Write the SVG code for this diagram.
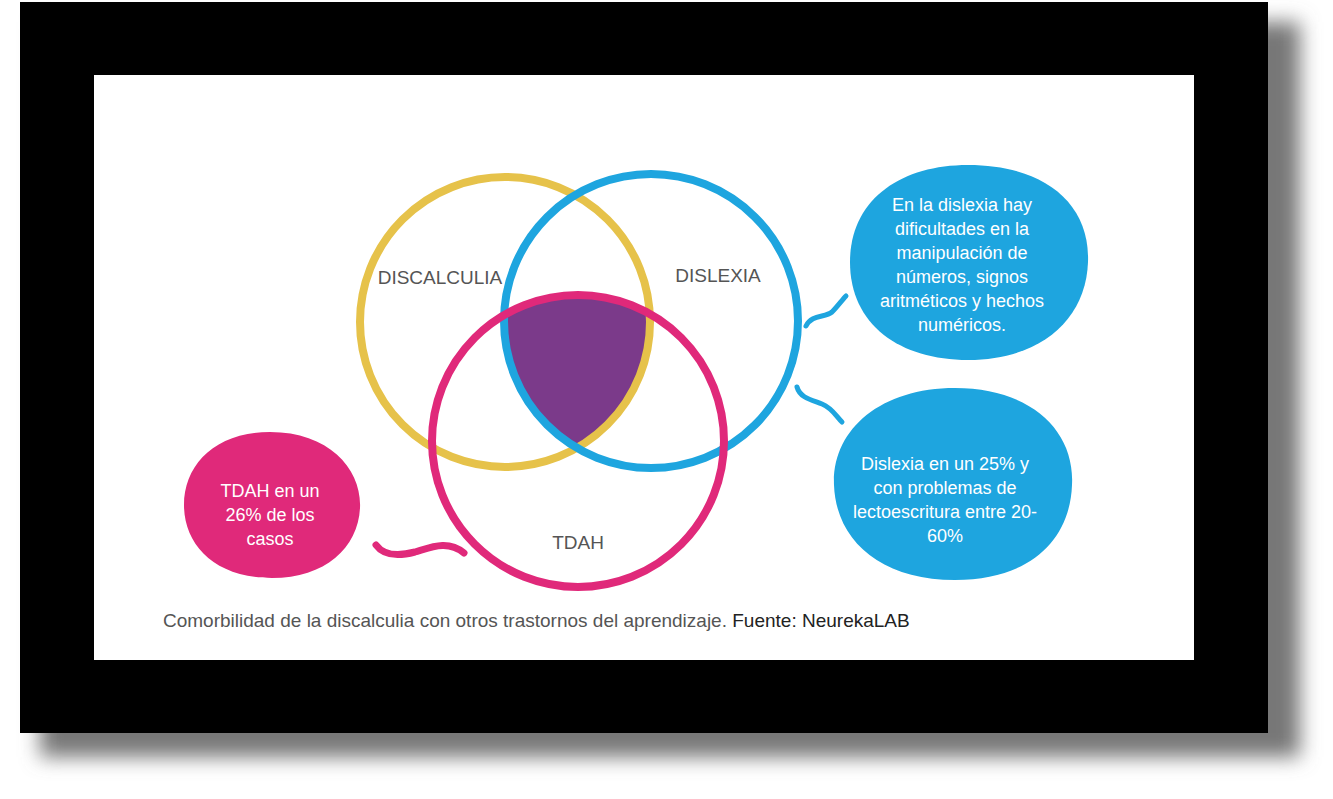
<svg xmlns="http://www.w3.org/2000/svg" width="1333" height="799" viewBox="0 0 1333 799">
<defs>
<style>
.lbl{font-family:"Liberation Sans",Arial,sans-serif;font-size:19px;fill:#555;text-anchor:middle}
.bt{font-family:"Liberation Sans",Arial,sans-serif;font-size:18px;fill:#fff;text-anchor:middle}
.ring{fill:none;stroke-width:8}
</style>
<filter id="sh" x="-5%" y="-5%" width="115%" height="120%"><feGaussianBlur stdDeviation="10"/></filter>
<clipPath id="cy"><circle cx="505" cy="322" r="145"/></clipPath>
<clipPath id="cb"><circle cx="651" cy="321" r="147"/></clipPath>
</defs>
<rect width="1333" height="799" fill="#fff"/>
<rect x="40" y="22" width="1260" height="735" fill="#777" filter="url(#sh)"/>
<rect x="20" y="2" width="1248" height="731" fill="#000"/>
<rect x="94" y="75" width="1100" height="585" fill="#fff"/>
<g id="intersection" clip-path="url(#cy)"><g clip-path="url(#cb)"><circle cx="578" cy="441" r="146" fill="#7b3a8a"/></g></g>
<g id="discalculia"><circle class="ring" cx="505" cy="322" r="145" stroke="#e6c24a"/><text class="lbl" x="440" y="284">DISCALCULIA</text></g>
<g id="dislexia"><circle class="ring" cx="651" cy="321" r="147" stroke="#1ea5df"/><text class="lbl" x="718" y="282">DISLEXIA</text></g>
<g id="tdah"><circle class="ring" cx="578" cy="441" r="146" stroke="#e0297a"/><text class="lbl" x="578" y="549">TDAH</text></g>
<g id="connectors">
<path d="M806 326 C812 314 825 318 832 312 C838 306 842 300 846 296" fill="none" stroke="#1ea5df" stroke-width="5" stroke-linecap="round"/>
<path d="M797 387 C800 398 812 400 822 404 C832 408 836 416 842 422" fill="none" stroke="#1ea5df" stroke-width="5" stroke-linecap="round"/>
<path d="M376 545 C384 556 400 556 415 552 C432 547 448 540 464 553" fill="none" stroke="#e0297a" stroke-width="7" stroke-linecap="round"/>
</g>
<g id="bubble1"><path d="M968 165 C1040 165 1090 200 1088 262 C1086 320 1040 360 968 360 C900 360 850 325 850 262 C850 200 900 165 968 165 Z" fill="#1ea5df"/>
<text class="bt" x="962" y="211">En la dislexia hay</text><text class="bt" x="962" y="235">dificultades en la</text><text class="bt" x="962" y="259">manipulación de</text><text class="bt" x="962" y="283">números, signos</text><text class="bt" x="962" y="307">aritméticos y hechos</text><text class="bt" x="962" y="331">numéricos.</text></g>
<g id="bubble2"><path d="M955 388 C1030 388 1075 430 1072 485 C1070 540 1030 580 955 580 C880 580 836 540 834 485 C832 430 880 388 955 388 Z" fill="#1ea5df"/>
<text class="bt" x="945" y="470">Dislexia en un 25% y</text><text class="bt" x="945" y="494">con problemas de</text><text class="bt" x="945" y="518">lectoescritura entre 20-</text><text class="bt" x="945" y="542">60%</text></g>
<g id="bubble3"><path d="M270 432 C330 432 362 470 360 508 C358 548 325 578 272 578 C215 578 184 545 184 505 C184 465 215 432 270 432 Z" fill="#e0297a"/>
<text class="bt" x="270" y="497">TDAH en un</text><text class="bt" x="270" y="521">26% de los</text><text class="bt" x="270" y="545">casos</text></g>
<text x="163" y="627" font-family="'Liberation Sans',Arial,sans-serif" font-size="19" fill="#555">Comorbilidad de la discalculia con otros trastornos del aprendizaje. <tspan fill="#222">Fuente: NeurekaLAB</tspan></text>
</svg>
